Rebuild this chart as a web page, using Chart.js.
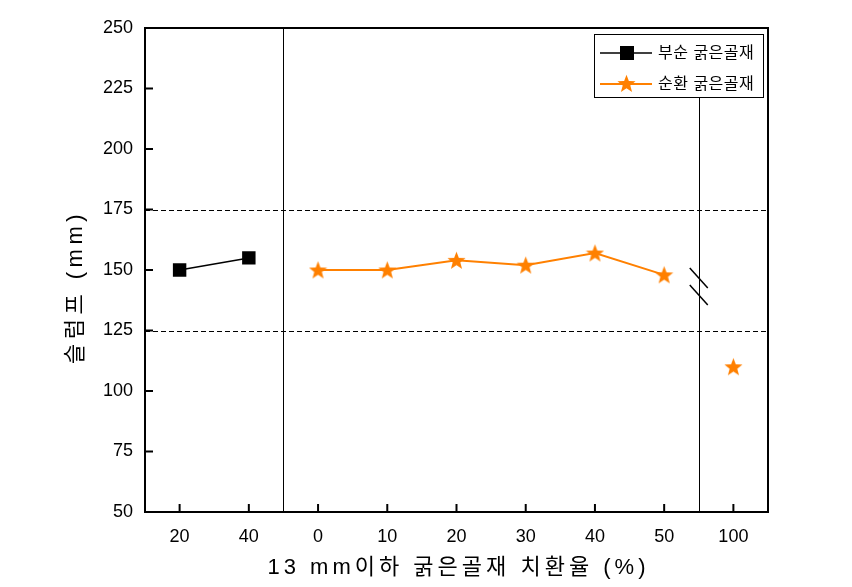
<!DOCTYPE html>
<html>
<head>
<meta charset="utf-8">
<script src="https://cdn.jsdelivr.net/npm/chart.js@4"></script>
<style>
  body { margin:0; background:#fff; }
  #wrap { width:852px; height:587px; }
</style>
</head>
<body>
<div id="wrap"><canvas id="c" width="852" height="587"></canvas></div>
<script>
  const categories = ['20','40','0','10','20','30','40','50','100'];
  const crushedSlump = [150,155,null,null,null,null,null,null,null];
  const recycledSlump = [null,null,150,150,154,152,157,148,110];
  const seriesNames = ['부순 굵은골재','순환 굵은골재'];
  const yMin = 50, yMax = 250, yStep = 25;
  const refLines = [175,125];
  const groupBreaks = [1,7];      // separator drawn after these category indexes
  const axisBreakValue = 143;
  const xTitle = '13 mm이하 굵은골재 치환율 (%)';
  const yTitle = '슬럼프 (mm)';

  const FONT = "'Liberation Sans', 'Noto Sans CJK KR', sans-serif";
  const ORANGE = '#ff8000';

  function makeStar(size, color) {
    const cv = document.createElement('canvas');
    cv.width = size; cv.height = size;
    const g = cv.getContext('2d');
    const cx = size/2, cy = size/2 + 0.8, ro = size/2, ri = ro*0.42;
    g.beginPath();
    for (let i = 0; i < 10; i++) {
      const r = i % 2 ? ri : ro;
      const a = -Math.PI/2 + i*Math.PI/5;
      g.lineTo(cx + r*Math.cos(a), cy + r*Math.sin(a));
    }
    g.closePath();
    g.fillStyle = color;
    g.fill();
    return cv;
  }
  const star = makeStar(19, ORANGE);

  const decor = {
    id: 'decor',
    beforeDatasetsDraw(chart) {
      const ctx = chart.ctx, a = chart.chartArea;
      const x = chart.scales.x, y = chart.scales.y;
      ctx.save();
      ctx.strokeStyle = '#000';
      ctx.lineWidth = 1;
      ctx.setLineDash([5,3]);
      refLines.forEach(v => {
        const py = Math.round(y.getPixelForValue(v)) + 0.5;
        ctx.beginPath(); ctx.moveTo(a.left, py); ctx.lineTo(a.right, py); ctx.stroke();
      });
      ctx.setLineDash([]);
      groupBreaks.forEach((idx, k) => {
        const px = Math.round((x.getPixelForValue(idx) + x.getPixelForValue(idx+1))/2) + 0.5;
        const top = k === groupBreaks.length-1 ? a.top + 69 : a.top;
        ctx.beginPath(); ctx.moveTo(px, top); ctx.lineTo(px, a.bottom); ctx.stroke();
      });
      // axis break marks on last separator
      const last = groupBreaks[groupBreaks.length-1];
      const bx = (x.getPixelForValue(last) + x.getPixelForValue(last+1))/2;
      const by = y.getPixelForValue(axisBreakValue);
      ctx.lineWidth = 1.5;
      [-9, 8].forEach(off => {
        ctx.beginPath();
        ctx.moveTo(bx - 9, by + off - 10);
        ctx.lineTo(bx + 9, by + off + 10);
        ctx.stroke();
      });
      ctx.restore();
    },
    afterDraw(chart) {
      const ctx = chart.ctx, a = chart.chartArea;
      const x = chart.scales.x, y = chart.scales.y;
      ctx.save();
      ctx.strokeStyle = '#000';
      ctx.lineWidth = 2;
      ctx.strokeRect(a.left, a.top, a.right - a.left, a.bottom - a.top);
      // inward ticks
      y.ticks.forEach(t => {
        const py = y.getPixelForValue(t.value);
        ctx.beginPath(); ctx.moveTo(a.left, py); ctx.lineTo(a.left + 8, py); ctx.stroke();
      });
      categories.forEach((c, i) => {
        const px = x.getPixelForValue(i);
        ctx.beginPath(); ctx.moveTo(px, a.bottom); ctx.lineTo(px, a.bottom - 8); ctx.stroke();
      });
      // legend
      const lx = a.right - 174, ly = a.top + 6, lw = 169, lh = 63;
      ctx.fillStyle = '#fff';
      ctx.fillRect(lx, ly, lw, lh);
      ctx.lineWidth = 1;
      ctx.strokeRect(lx + 0.5, ly + 0.5, lw, lh);
      ctx.font = '16px ' + FONT;
      ctx.textBaseline = 'middle';
      ctx.textAlign = 'left';
      ctx.letterSpacing = '0.5px';
      chart.data.datasets.forEach((ds, i) => {
        const cy = ly + 19 + i*31;
        ctx.strokeStyle = ds.borderColor;
        ctx.lineWidth = ds.borderWidth;
        ctx.beginPath(); ctx.moveTo(lx + 6, cy); ctx.lineTo(lx + 58, cy); ctx.stroke();
        if (ds.pointStyle === 'rect') {
          ctx.fillStyle = ds.pointBackgroundColor;
          ctx.fillRect(lx + 26, cy - 7, 14, 14);
        } else {
          ctx.drawImage(ds.pointStyle, lx + 23, cy - 10);
        }
        ctx.fillStyle = '#000';
        ctx.fillText(ds.label, lx + 64, cy + 1);
      });
      // axis titles
      ctx.fillStyle = '#000';
      ctx.font = '22px ' + FONT;
      ctx.textAlign = 'center';
      ctx.letterSpacing = '4px';
      ctx.fillText(xTitle, (a.left + a.right)/2 + 2, 568);
      ctx.letterSpacing = '4.5px';
      ctx.translate(76, (a.top + a.bottom)/2 + 17);
      ctx.rotate(-Math.PI/2);
      ctx.fillText(yTitle, 0, 0);
      ctx.restore();
    }
  };

  new Chart(document.getElementById('c'), {
    type: 'line',
    data: {
      labels: categories,
      datasets: [
        { label: seriesNames[0], data: crushedSlump, borderColor:'#000', backgroundColor:'#000',
          borderWidth: 1.5, pointStyle:'rect', pointRadius: 9.5, pointBackgroundColor:'#000',
          pointBorderWidth: 0, tension: 0, spanGaps: false },
        { label: seriesNames[1], data: recycledSlump, borderColor: ORANGE, backgroundColor: ORANGE,
          borderWidth: 2, pointStyle: star, pointRadius: 9, pointBackgroundColor: ORANGE, tension: 0,
          segment: { borderColor: c => c.p1DataIndex > groupBreaks[groupBreaks.length-1] ? 'transparent' : undefined } }
      ]
    },
    options: {
      responsive: false,
      animation: false,
      layout: { padding: { top: 28, right: 84, left: 0, bottom: 0 } },
      plugins: { legend: { display: false }, tooltip: { enabled: false } },
      scales: {
        x: {
          type: 'category',
          offset: true,
          grid: { display: false, drawTicks: false },
          border: { display: false },
          ticks: { color:'#000', font: { size: 18, family: FONT }, padding: 14, maxRotation: 0 },
          afterFit: s => { s.height = 75; }
        },
        y: {
          min: yMin, max: yMax,
          grid: { display: false, drawTicks: false },
          border: { display: false },
          ticks: { stepSize: yStep, color:'#000', font: { size: 18, family: FONT }, padding: 12 },
          afterFit: s => { s.width = 145; }
        }
      }
    },
    plugins: [decor]
  });
</script>
</body>
</html>
